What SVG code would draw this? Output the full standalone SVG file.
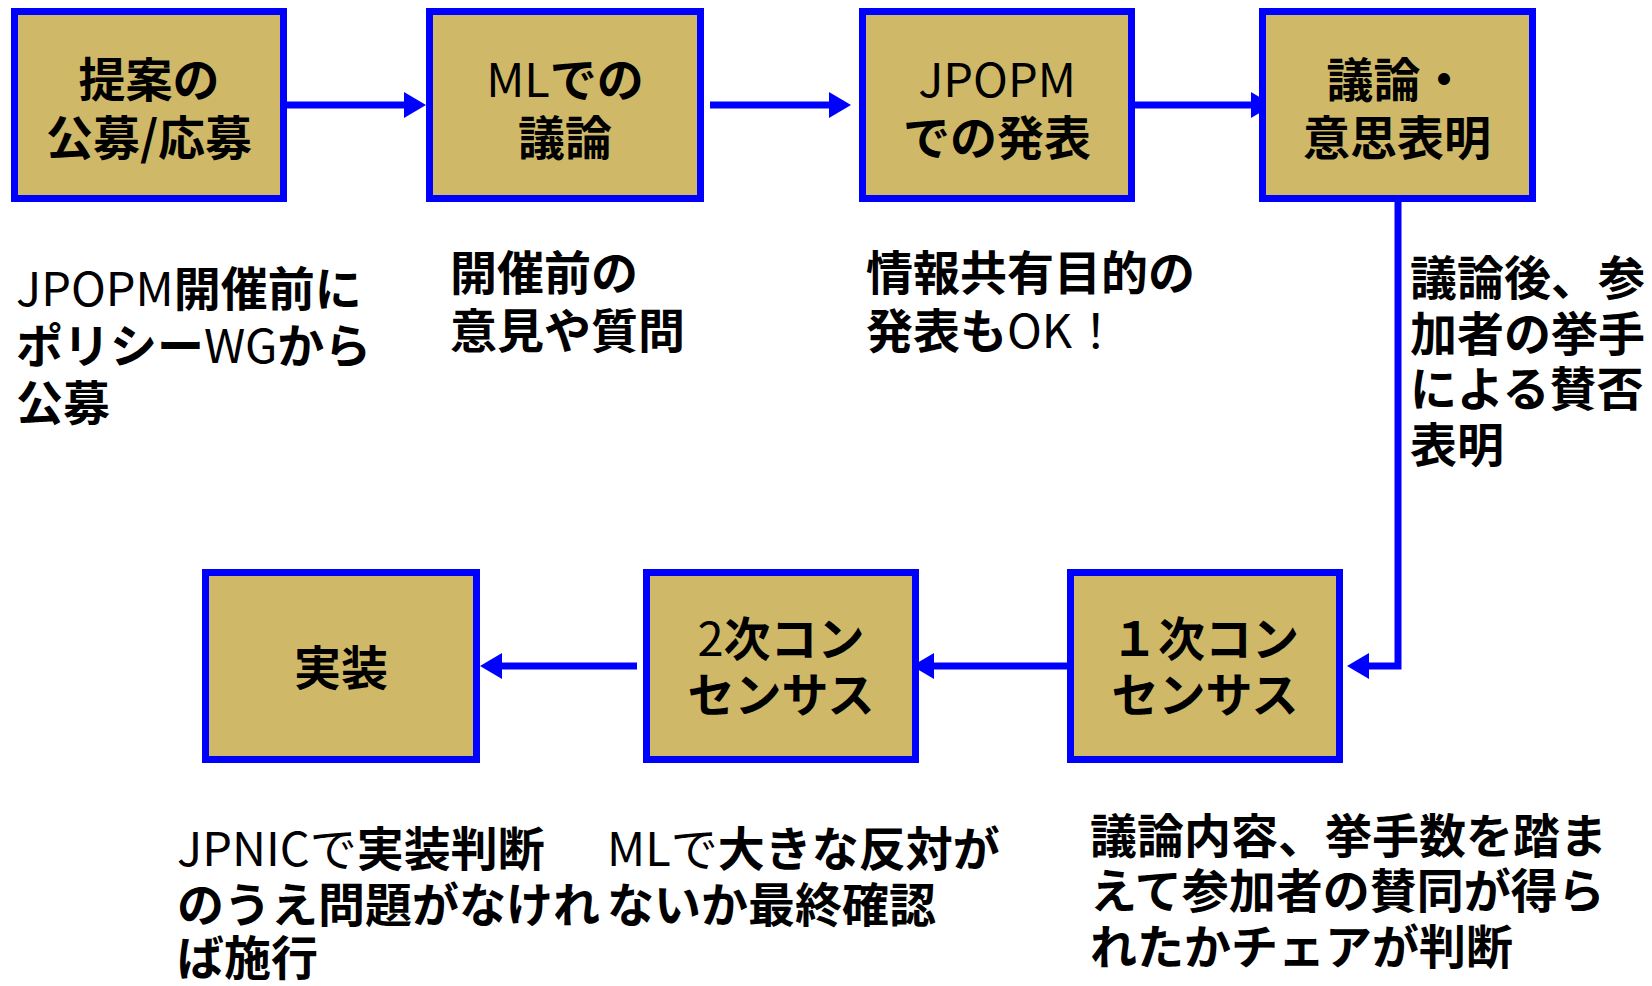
<svg xmlns="http://www.w3.org/2000/svg" width="1652" height="986" viewBox="0 0 1652 986">
<style>
.box{fill:#CFB969;stroke:#0000FF;stroke-width:7}
.t{font-family:"Noto Sans CJK JP","Noto Sans",sans-serif;font-size:47px;font-weight:bold;fill:#000}
.c{text-anchor:middle}
.n{font-weight:normal}
.conn{stroke:#0000FF;stroke-width:7;fill:none;marker-end:url(#ah)}
</style>
<defs>
<marker id="ah" markerWidth="22" markerHeight="26" refX="10" refY="13" orient="auto" markerUnits="userSpaceOnUse">
<path d="M0,0 L22,13 L0,26 Z" fill="#0000FF"/>
</marker>
</defs>
<rect width="1652" height="986" fill="#fff"/>
<g id="connectors">
<path class="conn" d="M287,105 H414"/>
<path class="conn" d="M710,105 H839"/>
<path class="conn" d="M1135,105 H1261"/>
<path class="conn" d="M1398,202 V666 H1359"/>
<path class="conn" d="M1067,666 H924"/>
<path class="conn" d="M637,666 H492"/>
</g>
<g id="n1"><rect class="box" x="14.5" y="11.5" width="269" height="187"/>
<text class="t c" x="149" y="97">提案の<tspan x="149" dy="58">公募/応募</tspan></text></g>
<g id="n2"><rect class="box" x="429.5" y="11.5" width="271" height="187"/>
<text class="t c" x="565" y="97"><tspan class="n">ML</tspan>での<tspan x="565" dy="58">議論</tspan></text></g>
<g id="n3"><rect class="box" x="862.5" y="11.5" width="269" height="187"/>
<text class="t c" x="997" y="97"><tspan class="n">JPOPM</tspan><tspan x="997" dy="58">での発表</tspan></text></g>
<g id="n4"><rect class="box" x="1262.5" y="11.5" width="270" height="187"/>
<text class="t c" x="1397" y="97">議論・<tspan x="1397" dy="58">意思表明</tspan></text></g>
<g id="n5"><rect class="box" x="205.5" y="572.5" width="271" height="187"/>
<text class="t c" x="341" y="685">実装</text></g>
<g id="n6"><rect class="box" x="646.5" y="572.5" width="269" height="187"/>
<text class="t c" x="781" y="656"><tspan class="n">2</tspan>次コン<tspan x="781" dy="56">センサス</tspan></text></g>
<g id="n7"><rect class="box" x="1070.5" y="572.5" width="269" height="187"/>
<text class="t c" x="1205" y="656">１次コン<tspan x="1205" dy="56">センサス</tspan></text></g>
<g id="notes">
<text class="t" x="16" y="306"><tspan class="n">JPOPM</tspan>開催前に<tspan x="16" dy="57">ポリシー</tspan><tspan class="n">WG</tspan>から<tspan x="16" dy="57">公募</tspan></text>
<text class="t" x="450" y="290">開催前の<tspan x="450" dy="58">意見や質問</tspan></text>
<text class="t" x="866" y="290">情報共有目的の<tspan x="866" dy="58">発表も</tspan><tspan class="n">OK！</tspan></text>
<text class="t" x="1410" y="295">議論後、参<tspan x="1410" dy="56">加者の挙手</tspan><tspan x="1410" dy="55">による賛否</tspan><tspan x="1410" dy="56">表明</tspan></text>
<text class="t" x="177" y="866"><tspan class="n">JPNICで</tspan>実装判断<tspan x="177" dy="56">のうえ問題がなけれ</tspan><tspan x="177" dy="53">ば施行</tspan></text>
<text class="t" x="607" y="866"><tspan class="n">MLで</tspan>大きな反対が<tspan x="607" dy="56">ないか最終確認</tspan></text>
<text class="t" x="1090" y="853">議論内容、挙手数を踏ま<tspan x="1090" dy="55">えて参加者の賛同が得ら</tspan><tspan x="1090" dy="56">れたかチェアが判断</tspan></text>
</g>
</svg>
